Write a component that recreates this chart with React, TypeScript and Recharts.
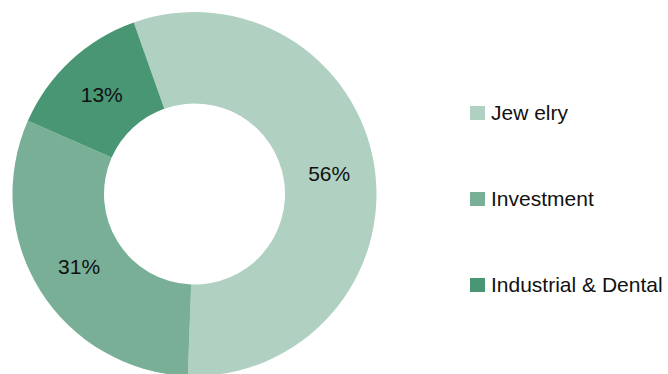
import { Cell, Legend, Pie, PieChart } from "recharts";

const categories = ["Jew elry", "Investment", "Industrial & Dental"];
const shares = [56, 31, 13];
const COLORS = ["#b0d0c1", "#78af96", "#489673"];

const RAD = Math.PI / 180;
const FONT = "'Liberation Sans', Arial, sans-serif";

const data = categories.map((name, i) => ({ name, value: shares[i] }));

function renderLabel(props: any) {
  const { cx, cy, midAngle, innerRadius, outerRadius, value } = props;
  const r = (innerRadius + outerRadius) / 2;
  const x = cx + r * Math.cos(-midAngle * RAD);
  const y = cy + r * Math.sin(-midAngle * RAD);
  return (
    <text x={x} y={y} fill="#111" fontSize={21} fontFamily={FONT} textAnchor="middle" dominantBaseline="central">
      {`${value}%`}
    </text>
  );
}

function renderLegend() {
  return (
    <div style={{ fontFamily: FONT, fontSize: 21, color: "#111" }}>
      {categories.map((c, i) => (
        <div key={c} style={{ display: "flex", alignItems: "center", height: 86 }}>
          <span style={{ width: 15, height: 14, background: COLORS[i], marginRight: 6, display: "inline-block" }} />
          <span>{c}</span>
        </div>
      ))}
    </div>
  );
}

export default function App() {
  return (
    <div style={{ position: "absolute", left: 0, top: 0, width: 668, height: 374, background: "#fff" }}>
      <PieChart width={668} height={374} margin={{ top: 0, right: 0, bottom: 0, left: 0 }}>
        <Pie
          data={data}
          dataKey="value"
          nameKey="name"
          cx={194.5}
          cy={194}
          innerRadius={90.5}
          outerRadius={182}
          startAngle={109.5}
          endAngle={-250.5}
          stroke="none"
          label={renderLabel}
          labelLine={false}
          isAnimationActive={false}
        >
          {data.map((d, i) => (
            <Cell key={d.name} fill={COLORS[i]} />
          ))}
        </Pie>
        <Legend content={renderLegend} wrapperStyle={{ position: "absolute", left: 470, top: 70, width: 198 }} />
      </PieChart>
    </div>
  );
}
